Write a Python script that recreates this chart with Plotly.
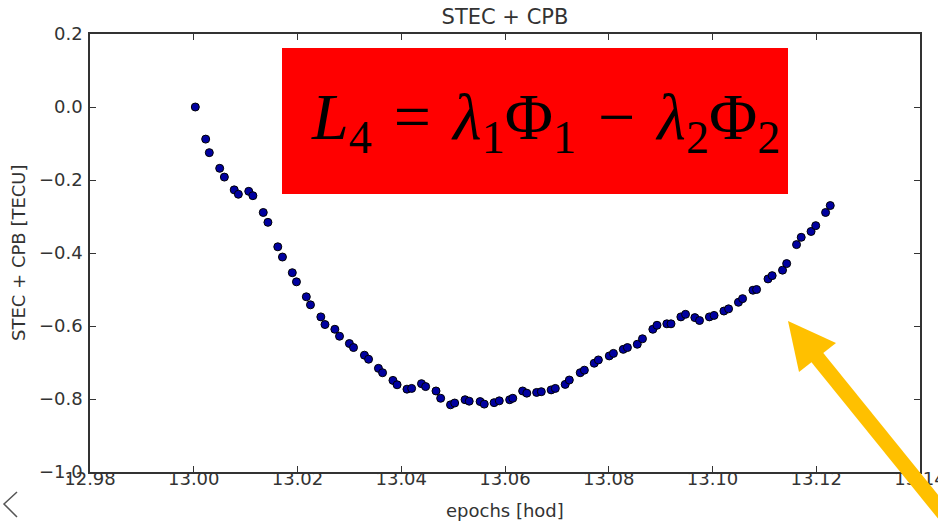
import plotly.graph_objects as go

# ---- data ----
epochs = [13.0003, 13.0023, 13.0030, 13.0050, 13.0059, 13.0078, 13.0086, 13.0106, 13.0114, 13.0134,
          13.0143, 13.0162, 13.0171, 13.0190, 13.0198, 13.0217, 13.0225, 13.0245, 13.0253, 13.0272,
          13.0281, 13.0300, 13.0308, 13.0329, 13.0337, 13.0356, 13.0364, 13.0384, 13.0392, 13.0411,
          13.0420, 13.0439, 13.0447, 13.0467, 13.0476, 13.0495, 13.0503, 13.0523, 13.0531, 13.0552,
          13.0560, 13.0579, 13.0589, 13.0609, 13.0615, 13.0634, 13.0642, 13.0661, 13.0670, 13.0689,
          13.0697, 13.0716, 13.0724, 13.0745, 13.0753, 13.0772, 13.0780, 13.0801, 13.0809, 13.0828,
          13.0836, 13.0855, 13.0865, 13.0885, 13.0893, 13.0912, 13.0920, 13.0939, 13.0948, 13.0966,
          13.0975, 13.0994, 13.1003, 13.1022, 13.1031, 13.1050, 13.1058, 13.1078, 13.1085, 13.1107,
          13.1115, 13.1135, 13.1143, 13.1162, 13.1171, 13.1190, 13.1199, 13.1218, 13.1227]
stec_cpb = [0.000, -0.088, -0.125, -0.168, -0.192, -0.227, -0.239, -0.231, -0.243, -0.289,
            -0.316, -0.383, -0.411, -0.454, -0.479, -0.520, -0.542, -0.575, -0.596, -0.609,
            -0.628, -0.648, -0.659, -0.680, -0.691, -0.716, -0.728, -0.749, -0.761, -0.773,
            -0.771, -0.758, -0.766, -0.778, -0.798, -0.816, -0.811, -0.802, -0.806, -0.807,
            -0.814, -0.810, -0.805, -0.802, -0.798, -0.778, -0.784, -0.782, -0.780, -0.775,
            -0.771, -0.760, -0.748, -0.728, -0.721, -0.702, -0.693, -0.682, -0.675, -0.664,
            -0.659, -0.650, -0.635, -0.609, -0.598, -0.594, -0.594, -0.575, -0.568, -0.577,
            -0.585, -0.575, -0.571, -0.559, -0.553, -0.535, -0.525, -0.502, -0.500, -0.471,
            -0.462, -0.447, -0.429, -0.377, -0.357, -0.341, -0.325, -0.289, -0.270]

title_text = "STEC + CPB"
x_title = "epochs [hod]"
y_title = "STEC + CPB [TECU]"
formula = ("<i>L</i><sub>4</sub>\u2004=\u2004<i>λ</i><sub>1</sub>Φ<sub>1</sub>"
           "\u2004−\u2004<i>λ</i><sub>2</sub>Φ<sub>2</sub>")

TXT = "#333333"
FONT = "DejaVu Sans"

fig = go.Figure()
fig.add_trace(go.Scatter(
    x=epochs, y=stec_cpb, mode="markers",
    marker=dict(size=8, color="#0000a0", line=dict(color="#000000", width=1)),
    showlegend=False, hoverinfo="skip"))

axis_common = dict(showline=True, linecolor=TXT, linewidth=1.5, mirror="allticks",
                   ticks="inside", ticklen=6, tickwidth=1, tickcolor=TXT,
                   showgrid=False, zeroline=False, automargin=False,
                   ticklabeloverflow="allow",
                   tickfont=dict(family=FONT, size=18, color=TXT))

fig.update_xaxes(range=[12.98, 13.14], dtick=0.02, tick0=12.98, tickformat=".2f",
                 ticklabelstandoff=-10, **axis_common)
fig.update_yaxes(range=[-1.0, 0.2], dtick=0.2, tick0=-1.0, tickformat=".1f",
                 ticklabelstandoff=2, **axis_common)

# paper-coordinate helpers for decorations (plot area: x 90..920 px, y 34..472 px)
def px(x):
    return (x - 90) / 830.0

def py(y):
    return (472 - y) / 438.0

shapes = [
    # red formula box
    dict(type="rect", xref="paper", yref="paper", x0=px(282), x1=px(788), y0=py(194), y1=py(48),
         fillcolor="#ff0000", line=dict(width=0), layer="above"),
    # arrow shaft
    dict(type="line", xref="paper", yref="paper", x0=px(812), y0=py(351), x1=px(965), y1=py(540),
         line=dict(color="#ffc000", width=15), layer="above"),
    # arrow head
    dict(type="path", xref="paper", yref="paper",
         path=f"M {px(788)} {py(321)} L {px(799)} {py(372)} L {px(836)} {py(343)} Z",
         fillcolor="#ffc000", line=dict(width=0), layer="above"),
    # chevron at bottom-left
    dict(type="path", xref="paper", yref="paper",
         path=f"M {px(17)} {py(492)} L {px(4)} {py(504)} L {px(17)} {py(517)}",
         line=dict(color="#555555", width=1.5), layer="above"),
]

annotations = [
    dict(text=formula, xref="paper", yref="paper", x=px(545), y=py(121), showarrow=False,
         xanchor="center", yanchor="middle",
         font=dict(family="Liberation Serif", size=66, color="#000000")),
    dict(text=x_title, xref="paper", yref="paper", x=0.5, y=py(510), showarrow=False,
         xanchor="center", yanchor="middle", font=dict(family=FONT, size=18, color=TXT)),
    dict(text=y_title, xref="paper", yref="paper", x=px(18), y=0.5, showarrow=False,
         textangle=-90, xanchor="center", yanchor="middle",
         font=dict(family=FONT, size=18, color=TXT)),
]

fig.update_layout(
    width=938, height=525,
    margin=dict(l=90, r=18, t=34, b=53, pad=0),
    paper_bgcolor="white", plot_bgcolor="white",
    title=dict(text=title_text, x=0.5, xref="paper", y=1 - 17 / 525, yref="container",
               xanchor="center", yanchor="middle",
               font=dict(family=FONT, size=21, color=TXT)),
    shapes=shapes, annotations=annotations,
)

fig.write_html("out.html", config={"displayModeBar": False},
               post_script="document.body.style.margin='0';document.body.style.overflow='hidden';")
